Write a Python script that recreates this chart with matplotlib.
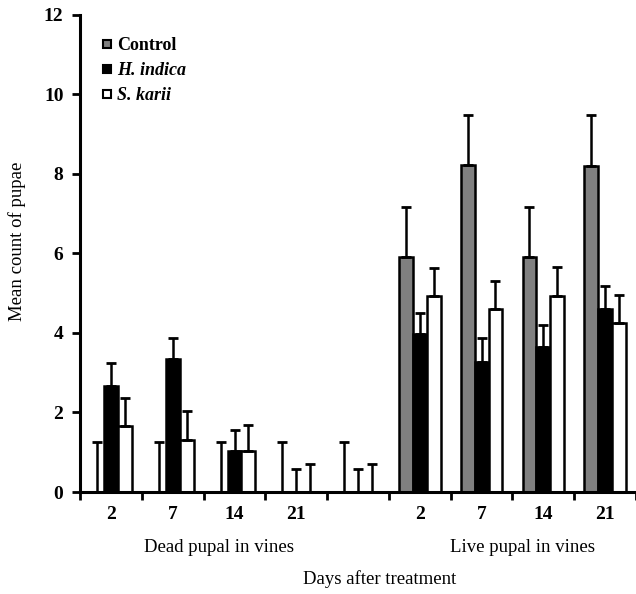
import numpy as np
import matplotlib.pyplot as plt

plt.rcParams['font.family'] = ['Liberation Serif', 'DejaVu Serif']

# slots: dead pupal 2,7,14,21, unlabeled, live pupal 2,7,14,21
tick_labels = ['2', '7', '14', '21', '', '2', '7', '14', '21']
control = [0, 0, 0, 0, 0, 5.9, 8.22, 5.92, 8.19]
control_top = [1.26, 1.26, 1.26, 1.26, 1.26, 7.17, 9.48, 7.17, 9.48]
h_indica = [2.67, 3.34, 1.03, 0, 0, 3.97, 3.28, 3.64, 4.6]
h_indica_top = [3.25, 3.88, 1.55, 0.57, 0.57, 4.5, 3.87, 4.2, 5.17]
s_karii = [1.67, 1.3, 1.03, 0, 0, 4.93, 4.6, 4.93, 4.25]
s_karii_top = [2.37, 2.04, 1.69, 0.7, 0.7, 5.64, 5.3, 5.65, 4.96]

fig = plt.figure(figsize=(6.36, 5.94), dpi=100)
ax = fig.add_axes([0.126, 0.1717, 0.874, 0.8033])

x = np.arange(len(tick_labels))
w = 0.225
series = [(control, control_top, '#808080', 'Control'),
          (h_indica, h_indica_top, 'black', 'H. indica'),
          (s_karii, s_karii_top, 'white', 'S. karii')]
for i, (vals, tops, col, lab) in enumerate(series):
    pos = x + (i - 1) * w
    vals = np.array(vals)
    err = np.array(tops) - vals
    ax.bar(pos, vals, w, color=col, edgecolor='black', linewidth=1.8, zorder=2)
    ax.errorbar(pos, vals, yerr=[np.zeros_like(err), err], fmt='none',
                ecolor='black', elinewidth=1.8, capsize=3.5, capthick=2, zorder=3)

ax.set_xlim(-0.5, 8.42)
ax.set_ylim(0, 12)
ax.set_yticks(range(0, 13, 2))
ax.set_xticks(np.arange(-0.5, 9, 1.0))
ax.set_xticklabels([])
ax.set_xticks(x, minor=True)
ax.set_xticklabels(tick_labels, minor=True, fontsize=14, fontweight='bold')
ax.tick_params(axis='x', which='minor', length=0, pad=10)
ax.tick_params(axis='x', which='major', length=6, width=2)
ax.tick_params(axis='y', length=6, width=2, labelsize=14, pad=6)
for t in ax.get_yticklabels():
    t.set_fontweight('bold')
for s in ['top', 'right']:
    ax.spines[s].set_visible(False)
for s in ['left', 'bottom']:
    ax.spines[s].set_linewidth(2.2)

fig.text(17 / 636, 1 - 241 / 594, 'Mean count of pupae', rotation=90,
         ha='center', va='center', fontsize=13.5)
fig.text(219 / 636, 1 - 548 / 594, 'Dead pupal in vines', ha='center', va='center',
         fontsize=13.5)
fig.text(522 / 636, 1 - 548 / 594, 'Live pupal in vines', ha='center', va='center',
         fontsize=13.5)
fig.text(380 / 636, 1 - 579 / 594, 'Days after treatment', ha='center', va='center',
         fontsize=13.5)

# legend
handles = [plt.Line2D([], [], marker='s', linestyle='none', markersize=6,
                      markerfacecolor=c, markeredgecolor='black', markeredgewidth=1.5)
           for _, _, c, _ in series]
leg = fig.legend(handles, [s[3] for s in series], loc='upper left',
                 bbox_to_anchor=(100 / 636, 1 - 37 / 594), frameon=False,
                 handletextpad=0.15, handlelength=0.8, labelspacing=0.44,
                 borderpad=0, borderaxespad=0,
                 prop={'size': 13, 'weight': 'bold'})
for t in leg.get_texts()[1:]:
    t.set_fontstyle('italic')

fig.savefig('out.png', dpi=100)
